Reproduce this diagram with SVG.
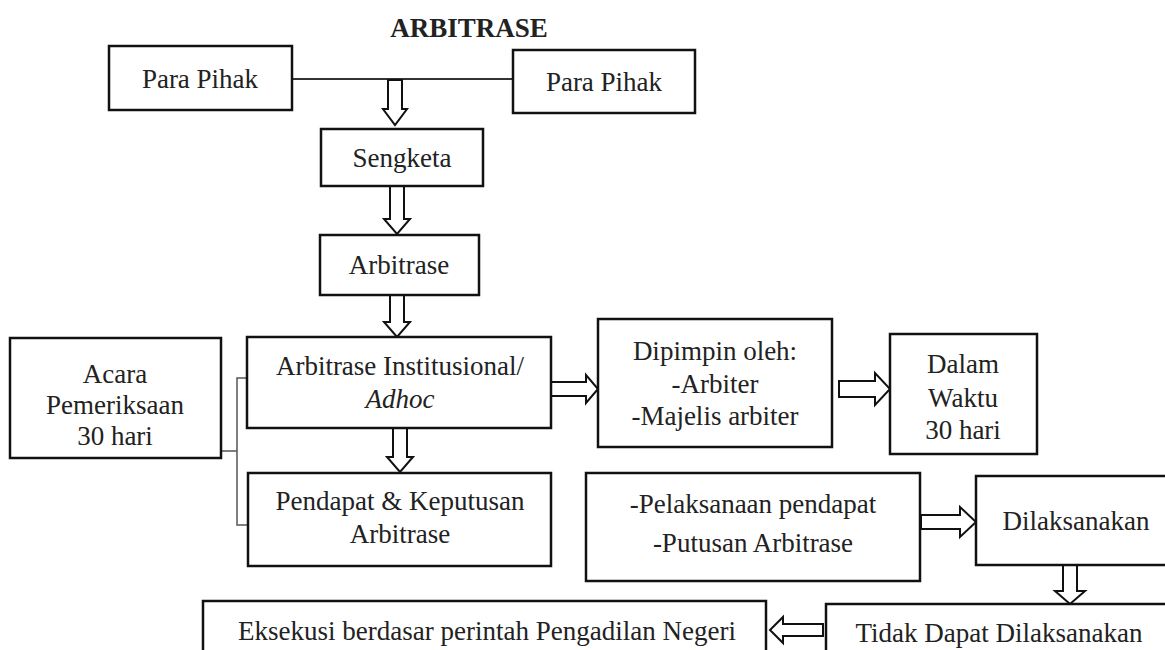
<svg xmlns="http://www.w3.org/2000/svg" width="1165" height="650" viewBox="0 0 1165 650">
<style>
.box{fill:#fff;stroke:#111;stroke-width:2.5}
.t{font-family:"Liberation Serif","Times New Roman",serif;font-size:27px;fill:#222;text-anchor:middle}
.title{font-weight:bold}
.arr{fill:#fff;stroke:#111;stroke-width:2;stroke-linejoin:miter}
.ln{fill:none;stroke:#333;stroke-width:2}
.br{fill:none;stroke:#555;stroke-width:1.5}
</style>
<rect width="1165" height="650" fill="#fff"/>
<text class="t title" x="469" y="37">ARBITRASE</text>
<g id="connectors">
<line class="ln" x1="292" y1="79" x2="513" y2="79"/>
<path class="br" d="M252 378 H237 V525 H252 M221 451 H237"/>
<polygon class="arr" points="388,80 402,80 402,109 407,109 395,125 383,109 388,109"/>
<polygon class="arr" points="390,186 404,186 404,219 410,219 397,234 384,219 390,219"/>
<polygon class="arr" points="390,295 404,295 404,322 410,322 397,337 384,322 390,322"/>
<polygon class="arr" points="393,428 407,428 407,457 413,457 400,472 387,457 393,457"/>
<polygon class="arr" points="551,382 586,382 586,375 598,389 586,403 586,396 551,396"/>
<polygon class="arr" points="839,381 875,381 875,373 890,389 875,405 875,397 839,397"/>
<polygon class="arr" points="921,515 960,515 960,507 976,522 960,537 960,529 921,529"/>
<polygon class="arr" points="1063,565 1077,565 1077,591 1085,591 1070,604 1055,591 1063,591"/>
<polygon class="arr" points="823,624 783,624 783,617 770,630 783,643 783,636 823,636"/>
</g>
<g id="para-pihak-1"><rect class="box" x="109" y="46" width="183" height="64"/><text class="t" x="200" y="88">Para Pihak</text></g>
<g id="para-pihak-2"><rect class="box" x="513" y="50" width="182" height="63"/><text class="t" x="604" y="91">Para Pihak</text></g>
<g id="sengketa"><rect class="box" x="321" y="129" width="162" height="57"/><text class="t" x="402" y="167">Sengketa</text></g>
<g id="arbitrase"><rect class="box" x="320" y="235" width="159" height="60"/><text class="t" x="399" y="274">Arbitrase</text></g>
<g id="institusional"><rect class="box" x="247" y="337" width="304" height="91"/><text class="t" x="400" y="375">Arbitrase Institusional/</text><text class="t" x="400" y="408" font-style="italic">Adhoc</text></g>
<g id="acara"><rect class="box" x="10" y="338" width="211" height="120"/><text class="t" x="115" y="383">Acara</text><text class="t" x="115" y="414">Pemeriksaan</text><text class="t" x="115" y="445">30 hari</text></g>
<g id="pendapat"><rect class="box" x="248" y="473" width="303" height="93"/><text class="t" x="400" y="510">Pendapat &amp; Keputusan</text><text class="t" x="400" y="543">Arbitrase</text></g>
<g id="dipimpin"><rect class="box" x="598" y="319" width="234" height="128"/><text class="t" x="715" y="360">Dipimpin oleh:</text><text class="t" x="715" y="393">-Arbiter</text><text class="t" x="715" y="425">-Majelis arbiter</text></g>
<g id="dalam"><rect class="box" x="890" y="334" width="147" height="120"/><text class="t" x="963" y="373">Dalam</text><text class="t" x="963" y="407">Waktu</text><text class="t" x="963" y="439">30 hari</text></g>
<g id="pelaksanaan"><rect class="box" x="586" y="473" width="334" height="108"/><text class="t" x="753" y="513">-Pelaksanaan pendapat</text><text class="t" x="753" y="552">-Putusan Arbitrase</text></g>
<g id="dilaksanakan"><rect class="box" x="976" y="476" width="210" height="89"/><text class="t" x="1076" y="530">Dilaksanakan</text></g>
<g id="tidak"><rect class="box" x="826" y="604" width="360" height="70"/><text class="t" x="999" y="642">Tidak Dapat Dilaksanakan</text></g>
<g id="eksekusi"><rect class="box" x="203" y="601" width="563" height="70"/><text class="t" x="487" y="640">Eksekusi berdasar perintah Pengadilan Negeri</text></g>
</svg>
